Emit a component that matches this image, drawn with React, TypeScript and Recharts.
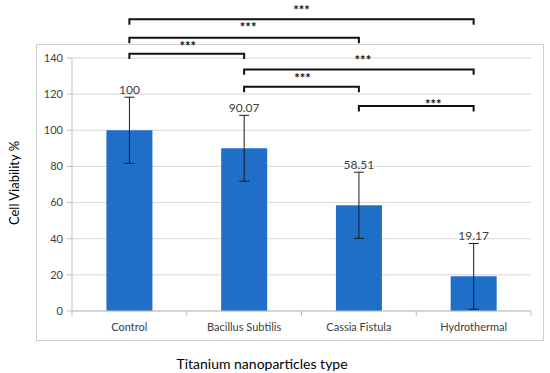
import React from 'react';
import { BarChart, Bar, XAxis, YAxis, CartesianGrid, ErrorBar, LabelList, ReferenceArea } from 'recharts';

// ---- data ----
const categories = ['Control', 'Bacillus Subtilis', 'Cassia Fistula', 'Hydrothermal'];
const viability = [100, 90.07, 58.51, 19.17];
const viabilityError = [18.3, 18.2, 18.3, 18.2];
const valueLabels = ['100', '90.07', '58.51', '19.17'];
const yTicks = [0, 20, 40, 60, 80, 100, 120, 140];

// significance brackets (category index from -> to, height in axis units)
const bracketFrom = [0, 0, 0, 1, 1, 2];
const bracketTo = [3, 2, 1, 3, 2, 3];
const bracketLevel = [161.4, 151.2, 142.4, 133.7, 124.1, 113.4];
const bracketMark = ['***', '***', '***', '***', '***', '***'];

// ---- style ----
const W = 550;
const H = 373;
const PLOT_LEFT = 72;
const PLOT_RIGHT = 531;
const PLOT_TOP = 58;
const PLOT_BOTTOM = 311;
const BAR_COLOR = '#1F6FC8';
const GRID = '#d9d9d9';
const AXIS = '#bfbfbf';
const TEXT = '#404040';
const starDx = [0, 4, 1, 4, 1, 17];
const starDy = [-12, -14, -10.5, -12, -12, -5];

const data = categories.map((name, i) => ({
  name,
  idx: i,
  value: viability[i],
  err: viabilityError[i],
  label: valueLabels[i],
}));

const XTick = (props: any) => {
  const { x, y, payload, index } = props;
  const half = (PLOT_RIGHT - PLOT_LEFT) / categories.length / 2;
  return (
    <g>
      <line x1={x + half} x2={x + half} y1={y} y2={y + 5} stroke={AXIS} />
      {index === 0 && <line x1={x - half} x2={x - half} y1={y} y2={y + 5} stroke={AXIS} />}
      <text x={x} y={y + 19.5} textAnchor="middle" fontSize={11} fill={TEXT}>
        {payload.value}
      </text>
    </g>
  );
};

const ValueLabel = (props: any) => {
  const { x, y, width, height, index, value } = props;
  const errPx = (Number(height) * viabilityError[index]) / viability[index];
  return (
    <text x={Number(x) + Number(width) / 2} y={Number(y) - errPx - 3} textAnchor="middle" fontSize={12} fill={TEXT}>
      {value}
    </text>
  );
};

const makeBracket = (i: number) => (props: any) => {
  const { x, y, width, height } = props;
  const d = `M${x},${y + height} L${x},${y} L${x + width},${y} L${x + width},${y + height}`;
  return (
    <g>
      <path d={d} fill="none" stroke="#111" strokeWidth={2} />
      <text
        x={x + width / 2 + starDx[i]}
        y={y + starDy[i] + 8}
        textAnchor="middle"
        fontSize={13}
        fontWeight="bold"
        fill="#111"
      >
        {bracketMark[i]}
      </text>
    </g>
  );
};

export default function App() {
  return (
    <div
      style={{
        position: 'absolute',
        left: 0,
        top: 0,
        width: W,
        height: H,
        background: '#fff',
        fontFamily: 'Lato, "Open Sans", sans-serif',
      }}
    >
      <div
        style={{
          position: 'absolute',
          left: 36,
          top: 44,
          width: 508,
          height: 297,
          border: '1px solid #cfcfcf',
          boxSizing: 'border-box',
        }}
      />
      <div style={{ position: 'absolute', left: 0, top: 0 }}>
        <BarChart
          width={W}
          height={H}
          data={data}
          margin={{ top: PLOT_TOP, right: W - PLOT_RIGHT, bottom: 0, left: 0 }}
          barCategoryGap="30%"
        >
          <CartesianGrid vertical={false} stroke={GRID} />
          <XAxis
            dataKey="name"
            height={H - PLOT_BOTTOM}
            tickLine={false}
            tickSize={0}
            tickMargin={0}
            axisLine={{ stroke: AXIS }}
            tick={<XTick />}
            interval={0}
          />
          <XAxis xAxisId="num" type="number" dataKey="idx" domain={[-0.5, 3.5]} hide allowDataOverflow />
          <YAxis
            width={PLOT_LEFT}
            domain={[0, 140]}
            ticks={yTicks}
            tickSize={5}
            tickMargin={4}
            axisLine={{ stroke: AXIS }}
            tickLine={{ stroke: AXIS }}
            tick={{ fontSize: 11, fill: TEXT }}
          />
          <Bar dataKey="value" fill={BAR_COLOR} isAnimationActive={false}>
            <ErrorBar dataKey="err" width={5} stroke="#1a1a1a" strokeWidth={1} direction="y" />
            <LabelList dataKey="label" content={<ValueLabel />} />
          </Bar>
          {bracketFrom.map((from, i) => (
            <ReferenceArea
              key={i}
              xAxisId="num"
              x1={from}
              x2={bracketTo[i]}
              y1={bracketLevel[i] - 3}
              y2={bracketLevel[i]}
              ifOverflow="visible"
              shape={makeBracket(i)}
            />
          ))}
        </BarChart>
      </div>
      <div
        style={{
          position: 'absolute',
          left: 14 - 100,
          top: 183 - 10,
          width: 200,
          height: 20,
          lineHeight: '20px',
          textAlign: 'center',
          fontSize: 13,
          color: '#000',
          transform: 'rotate(-90deg)',
          whiteSpace: 'nowrap',
        }}
      >
        Cell Viability %
      </div>
      <div
        style={{
          position: 'absolute',
          left: 262 - 150,
          top: 364 - 10,
          width: 300,
          height: 20,
          lineHeight: '20px',
          textAlign: 'center',
          fontSize: 14,
          color: '#000',
          whiteSpace: 'nowrap',
        }}
      >
        Titanium nanoparticles type
      </div>
    </div>
  );
}
